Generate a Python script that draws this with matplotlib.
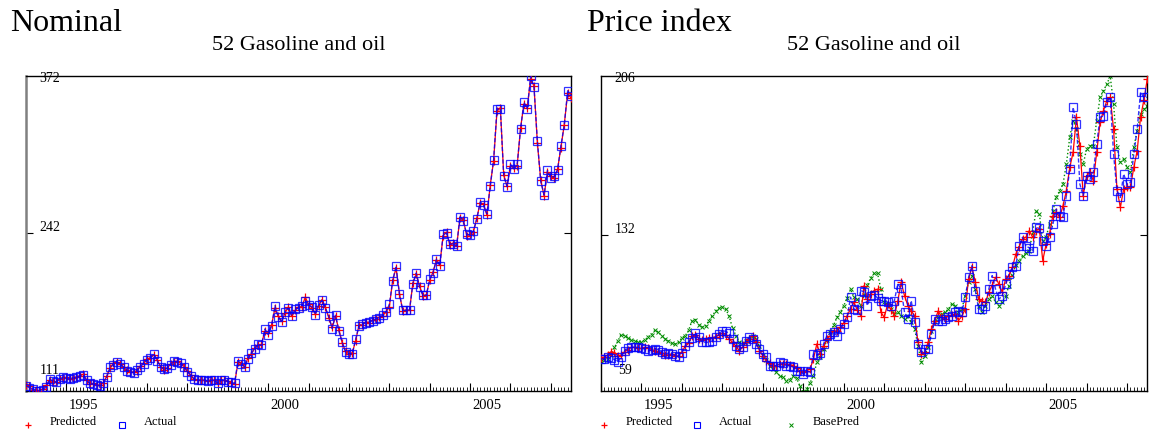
import numpy as np
import matplotlib
matplotlib.use("Agg")
import matplotlib.pyplot as plt
from matplotlib.lines import Line2D
from matplotlib.ticker import MultipleLocator

plt.rcParams['font.family'] = ['Liberation Serif', 'DejaVu Serif']

# Monthly observations, 1994(1) .. 2007(7)
start_year = 1994
n_obs = 163

nominal_actual = [
    115.6, 114, 113, 111.5, 111, 112, 114.5, 121, 119.5, 118.5,
    121.5, 122.5, 122, 121, 122, 122.5, 123.5, 124.5, 120, 117.5,
    117, 116, 115.5, 117.5, 123, 131, 133, 135, 134, 131,
    128, 127, 126.5, 128.5, 131.5, 134, 137, 139, 142, 136.5,
    131, 129.5, 130, 133, 136, 135.5, 134.5, 131, 127, 124,
    121, 120.5, 120, 120.5, 119.5, 120, 120.5, 118, 120, 120.5,
    119, 118.5, 117.5, 136.4, 133.6, 131, 137.8, 143, 146, 150,
    149, 162.6, 158, 165, 182, 172.6, 168.5, 177, 180, 173.6,
    179, 180, 182, 186, 182.5, 181, 174.6, 182.5, 186.6, 180,
    173, 163, 174, 161, 151.7, 143.6, 142.2, 142.2, 154.4, 165.4,
    166.8, 168, 168.7, 169.5, 171, 172, 174, 176.5, 183, 202.6,
    215, 191.6, 178, 178, 178.5, 200, 209, 197.4, 190.5, 190.5,
    204, 209, 220.6, 215, 241, 242, 233, 233, 231.5, 255.7,
    252, 241, 240.5, 244, 253.8, 267.8, 265, 258, 281, 303,
    345, 345, 289.6, 280.5, 299, 295, 299, 328, 350.5, 345,
    372, 363, 318.6, 285, 273.6, 294, 288, 289, 294, 314.5,
    331.6, 360, 356,
]

nominal_predicted = [
    116.5, 115, 112, 112, 111.5, 113, 116, 120, 119, 119,
    121, 122, 122.5, 121.5, 122, 123, 124, 125, 120.5, 117,
    117.5, 116.5, 116, 118, 123.5, 130, 134.5, 135, 133.5, 131,
    128.5, 127, 127, 128, 132, 134.5, 137.5, 139, 141, 137,
    131.5, 129, 130.5, 133.5, 135.5, 136, 134, 131.5, 127.5, 124.5,
    121, 120, 120.5, 120, 119.5, 120.5, 120, 117.5, 120, 120,
    119.5, 118, 117, 135, 134, 131.5, 139, 142, 147, 149,
    150, 161, 159, 166, 180, 173, 169, 176, 181, 173,
    178, 181, 181, 189, 183, 180, 175, 182, 187, 180.5,
    172, 164, 173, 162, 151, 144, 142, 143, 153, 166,
    166, 168.5, 168, 170, 170.5, 172.5, 173.5, 177, 181, 203,
    213, 192, 177.5, 178.5, 178, 201, 208, 198, 190, 191,
    203, 210, 219.5, 216, 240, 243, 232, 234, 231, 255,
    253, 240, 241, 243, 254.5, 267, 266, 257, 282, 302,
    343, 346, 290, 281, 298, 296, 298, 329, 349, 346,
    370, 364, 317, 286, 273, 293, 289, 288, 295, 313,
    332, 358, 354,
]

index_actual = [
    74.1, 74.1, 74.9, 74.6, 73.8, 72.8, 74.9, 78.0, 79.1, 79.5,
    79.5, 79.5, 79.2, 78.7, 78.0, 78.2, 78.9, 78.5, 77.5, 76.4,
    76.8, 76.4, 75.5, 75.2, 77.0, 80.3, 81.9, 84.0, 86.2, 84.2,
    82.1, 81.9, 81.9, 82.5, 84.2, 85.7, 87.3, 87.0, 86.0, 83.4,
    80.3, 78.7, 79.5, 82.6, 84.2, 83.5, 81.0, 78.7, 76.4, 74.9,
    71.0, 71.0, 71.0, 72.5, 72.0, 71.0, 71.0, 70.3, 68.6, 68.3,
    67.1, 68.3, 68.0, 76.4, 75.8, 77.0, 81.1, 85.0, 85.8, 86.5,
    85.0, 88.1, 90.4, 93.5, 102.9, 97.4, 97.0, 106.0, 105.5, 99.0,
    103.6, 104.0, 102.6, 101.3, 101.3, 100.6, 99.0, 101.3, 109.0, 107.0,
    95.9, 92.7, 101.3, 91.2, 81.1, 77.2, 78.7, 78.7, 85.7, 92.7,
    92.0, 92.0, 92.7, 93.5, 94.3, 95.9, 96.7, 95.9, 102.9, 112.2,
    117.6, 106.0, 97.4, 97.4, 99.0, 106.7, 113.0, 106.7, 102.0, 103.6,
    109.0, 113.7, 116.9, 117.6, 127.0, 130.9, 126.7, 126.0, 124.6, 135.5,
    135.0, 129.3, 127.0, 130.9, 137.0, 144.0, 141.0, 140.4, 150.3, 162.7,
    191.5, 183.7, 155.7, 150.3, 159.6, 158.0, 161.2, 174.4, 186.9, 187.6,
    193.9, 196.2, 169.7, 152.6, 149.5, 160.4, 155.7, 156.5, 169.7, 181.4,
    198.5, 196.2, 196.2,
]

index_predicted = [
    74.5, 75, 76, 77.5, 77, 75.5, 76, 77.5, 78.5, 79.5,
    79.5, 79, 79, 79.5, 79, 78.5, 78, 77.5, 77, 76,
    76, 76.5, 75.5, 75.5, 77.5, 80, 81.5, 85, 85.5, 83.5,
    83, 83.5, 84, 84, 84.5, 85.5, 86, 85.5, 83.5, 81.9,
    80, 78, 79.5, 81.9, 83.5, 85, 82, 78, 75.5, 73.3,
    72, 71, 71, 71.7, 71.7, 71.7, 71.5, 71, 70, 68.3,
    68, 68.6, 69.5, 74.1, 81.1, 76.4, 80, 83.4, 85, 87.3,
    87, 88.9, 91, 94.3, 97.5, 100.5, 97, 94.3, 108.3, 102,
    104.4, 106, 106.7, 95.9, 93.5, 99.7, 97, 94.3, 101, 109.9,
    103.6, 99, 96.5, 94.3, 81.9, 76.4, 77.2, 81.9, 88.1, 92,
    96.6, 93.5, 92.7, 94.3, 94.5, 95.1, 92, 94, 97.4, 111.4,
    116.9, 109.9, 102, 101, 100.5, 105.2, 108.5, 112.2, 109, 105.2,
    111.4, 113, 116.9, 123, 126.5, 130, 130.9, 134, 130.9, 134,
    134.7, 120, 127.7, 132.4, 141, 142.5, 140.2, 145.6, 152.6, 163.5,
    170.5, 186.9, 173.6, 150.3, 159.6, 161.2, 157.3, 170.5, 184.5, 190,
    194.6, 196.2, 181.4, 153.4, 144.9, 153.4, 154.2, 154.2, 163.5, 171.3,
    186.9, 195, 204.7,
]

index_basepred = [
    73.3, 73.5, 74, 76, 79.5, 82.5, 85.5, 85, 84, 83,
    82.3, 82, 82, 83, 84.5, 85.5, 87.5, 86.5, 85, 83.5,
    82.5, 81.5, 81.1, 82, 84, 85, 87.5, 92, 92.5, 90,
    88.9, 89.5, 92, 94.3, 96.5, 97.8, 98.2, 97.4, 94, 88.5,
    85, 82, 81.5, 82.5, 83.5, 85, 83.5, 80, 76, 73.5,
    71, 69.4, 68, 66.3, 65.5, 64, 64.5, 66.3, 65, 61.6,
    58.7, 60.1, 63, 66.3, 72.5, 75, 78.7, 83, 86.5, 90,
    93.5, 96, 99, 102.5, 106.7, 103, 102, 99, 104, 108.5,
    112, 114, 114, 106.7, 100.5, 99.7, 97.4, 95.1, 95.9, 94.3,
    92.7, 94.3, 91.2, 88.1, 80.3, 72.5, 75.6, 79.5, 87.3, 91.2,
    93.5, 95.1, 95.9, 97.4, 99.7, 99, 95.9, 97.4, 103.6, 109.9,
    113, 106.7, 99, 95.9, 99, 102, 103.6, 100.5, 99, 100.5,
    103.6, 108.3, 113.5, 118, 120, 122.3, 123.5, 124.6, 133.2, 143.3,
    141.7, 129.3, 130.9, 137, 143.3, 149.5, 152.6, 155.7, 165, 177.5,
    185.3, 181.4, 169.7, 165, 172.1, 173.6, 173.6, 185.3, 196.2, 199.3,
    202.4, 206, 193.1, 172.9, 165.9, 167.4, 163.5, 161.2, 172.9, 180.6,
    188.4, 190.7, 192,
]

nominal_yticks = [111, 242, 372]
index_yticks = [59, 132, 206]
year_labels = [1995, 2000, 2005]

dates = start_year + np.arange(n_obs) / 12.0

W, H = 1151, 431
fig = plt.figure(figsize=(W / 100, H / 100), dpi=100)

RED = (1.0, 0.0, 0.0)
BLUE = (0.0, 0.0, 1.0)
GREEN = (0.0, 0.55, 0.0)
SQ_SIZE = 5.2
PLUS_SIZE = 5.5


def px(x, y):
    return x / W, 1 - y / H


def make_axes(left_px, right_px, left_spine_color):
    top, bottom = 77.3, 392.3
    x0, y1 = px(left_px, top)
    x1, y0 = px(right_px, bottom)
    ax = fig.add_axes([x0, y0, x1 - x0, y1 - y0])
    for s in ax.spines.values():
        s.set_linewidth(1.0)
        s.set_color('black')
    ax.spines['left'].set_color(left_spine_color)
    ax.spines['left'].set_linewidth(1.8 if left_spine_color != 'black' else 1.0)
    ax.set_xlim(dates[0], dates[-1])
    ax.xaxis.set_major_locator(MultipleLocator(1))
    ax.xaxis.set_minor_locator(MultipleLocator(1 / 12))
    ax.tick_params(axis='x', which='major', direction='in', length=6, width=0.8,
                   labelbottom=False, top=False)
    ax.tick_params(axis='x', which='minor', direction='in', length=3, width=0.6, top=False)
    ax.tick_params(axis='y', which='both', direction='in', length=5, width=0.8,
                   left=True, right=True, labelleft=False)
    for yr in year_labels:
        ax.text(yr + 0.42, -0.043, str(yr), transform=ax.get_xaxis_transform(),
                ha='center', va='center', fontsize=10.5)
    ax.text(0.5, 1.1025, '52 Gasoline and oil', transform=ax.transAxes,
            ha='center', va='center', fontsize=16)
    return ax


def y_labels(ax, ticks):
    ax.set_ylim(ticks[0], ticks[-1])
    ax.set_yticks([ticks[1]])
    off = 24 / (ax.get_position().width * W)
    hpx = ax.get_position().height * H
    for val, fy in zip(ticks, [21.5 / hpx, None, 1 - 0.8 / hpx]):
        if fy is None:
            fy = (val - ticks[0]) / (ticks[-1] - ticks[0]) + 6.5 / hpx
        ax.text(off, fy, str(val), transform=ax.transAxes, ha='center',
                va='center', fontsize=10)


# ---- Nominal panel ----
ax1 = make_axes(26, 571, '#808080')
ax1.plot(dates, nominal_predicted, '-', color=RED, lw=0.9, marker='+', ms=PLUS_SIZE,
         mew=0.9, zorder=3)
ax1.plot(dates, nominal_actual, '--', color=BLUE, lw=1.0, dashes=(3, 1.5),
         marker='s', ms=SQ_SIZE, mfc='none', mec=BLUE, mew=0.9, alpha=0.8, zorder=4)
y_labels(ax1, nominal_yticks)

# ---- Price index panel ----
ax2 = make_axes(601, 1147.3, 'black')
ax2.plot(dates, index_basepred, ':', color=GREEN, lw=1.0, marker='x', ms=3.4,
         mew=0.7, zorder=2)
ax2.plot(dates, index_predicted, '-', color=RED, lw=0.9, marker='+', ms=PLUS_SIZE,
         mew=0.9, zorder=3)
ax2.plot(dates, index_actual, '--', color=BLUE, lw=1.0, dashes=(3, 1.5),
         marker='s', ms=SQ_SIZE, mfc='none', mec=BLUE, mew=0.9, alpha=0.8, zorder=4)
y_labels(ax2, index_yticks)

# Panel headings
fig.text(*px(10, 31), 'Nominal', fontsize=23, ha='left', va='baseline')
fig.text(*px(587, 31), 'Price index', fontsize=23, ha='left', va='baseline')


# Legends along the bottom
def legend_entry(xm, label, **style):
    xf, yf = px(xm, 425.5)
    fig.add_artist(Line2D([xf], [yf], transform=fig.transFigure, ls='none', **style))
    fig.text(*px(xm + 22, 422), label, fontsize=9, ha='left', va='center')


plus = dict(marker='+', color=RED, ms=5, mew=0.9)
square = dict(marker='s', mfc='none', mec=BLUE, ms=4.6, mew=0.8)
cross = dict(marker='x', color=GREEN, ms=3.5, mew=0.7)

legend_entry(28, 'Predicted', **plus)
legend_entry(122, 'Actual', **square)
legend_entry(604, 'Predicted', **plus)
legend_entry(697, 'Actual', **square)
legend_entry(791, 'BasePred', **cross)

fig.savefig('out.png', dpi=100)
